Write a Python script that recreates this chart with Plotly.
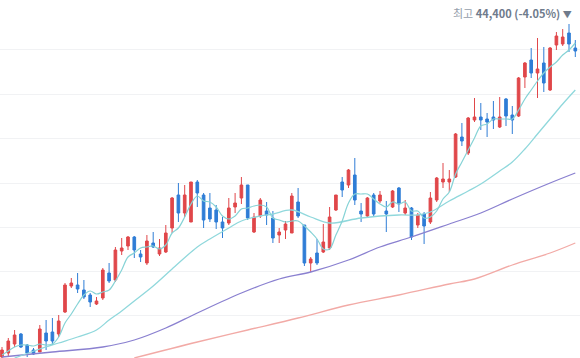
import plotly.graph_objects as go

# ---- data ----
idx = list(range(92))

opens = [27750, 27950, 28400, 28900, 28350, 28100, 28000, 28950, 29000, 28900,
         30000, 31300, 31350, 31100, 30850, 30400, 30700, 31950, 31600, 33050,
         33300, 33750, 32900, 32450, 33450, 32900, 33000, 34200, 35850, 34950,
         34500, 36500, 35850, 35200, 35100, 34500, 34450, 35250, 35700, 36350,
         34000, 34800, 35050, 34700, 33850, 34100, 33950, 35500, 34350, 32450,
         32950, 33000, 33200, 35100, 36500, 36350, 36850, 35050, 34800, 35850,
         35550, 35050, 35250, 36200, 34950, 35200, 34350, 34900, 34500, 35600,
         36500, 36500, 36750, 38750, 37950, 39600, 39750, 39650, 39750, 39250,
         40650, 39850, 39800, 41750, 42600, 41950, 42450, 41100, 43350, 43400,
         43950, 43200]

highs = [28250, 28700, 29100, 28950, 28400, 28200, 29350, 29600, 29700, 29850,
         31450, 31700, 31950, 31600, 30950, 30750, 32200, 32450, 33250, 33700,
         33800, 33800, 33100, 33850, 34000, 33650, 34350, 35750, 36450, 36350,
         36500, 36600, 35950, 35950, 35350, 34750, 35700, 35950, 36750, 36350,
         34950, 35700, 35500, 35050, 34200, 34550, 35950, 36200, 34350, 32750,
         33650, 34400, 35250, 35850, 36750, 37150, 37700, 35450, 35750, 35950,
         36050, 35550, 36100, 36250, 35600, 35250, 34950, 35000, 36000, 36750,
         37450, 37100, 38950, 39450, 39750, 40700, 40450, 39950, 40550, 40750,
         40700, 40300, 41750, 42500, 43200, 43700, 43250, 43250, 44000, 44150,
         44400, 43600]

lows = [27700, 27800, 28250, 28200, 27750, 27850, 28000, 28100, 28350, 28750,
        29950, 31200, 30950, 30650, 30250, 30350, 30600, 31450, 31500, 32850,
        33100, 32700, 32500, 32350, 33200, 32800, 32950, 33950, 34500, 34750,
        34500, 35250, 34200, 34500, 34150, 33700, 34350, 34950, 35400, 34600,
        33950, 34700, 34350, 33450, 33450, 33650, 33950, 34700, 32300, 32000,
        32350, 32950, 33100, 35050, 35750, 36200, 35350, 34500, 34700, 34800,
        35450, 34000, 35200, 35000, 34850, 33600, 34200, 33400, 34400, 35500,
        36200, 36000, 36700, 38300, 37850, 39500, 39100, 38750, 39150, 39200,
        39300, 38900, 39750, 41200, 41700, 40700, 41000, 41050, 43100, 43300,
        43000, 42750]

closes = [28100, 28550, 28850, 28250, 27950, 27900, 29150, 28550, 28550, 29550,
          31350, 31450, 31150, 30750, 30500, 30550, 32100, 31550, 33100, 33200,
          33750, 33100, 32750, 33550, 33250, 33200, 33950, 35700, 34950, 35850,
          36500, 35950, 34600, 34650, 34500, 34200, 35200, 35450, 36350, 34700,
          34750, 35600, 34850, 33700, 34000, 34400, 35800, 34800, 32450, 32650,
          32450, 33500, 34750, 35850, 36100, 37100, 35600, 34900, 35700, 34900,
          35850, 34900, 36050, 35400, 35200, 33750, 34850, 34300, 35700, 36700,
          36650, 36650, 38900, 38550, 39700, 39750, 39600, 39500, 39600, 39750,
          39800, 39600, 41700, 42450, 41950, 42150, 41450, 43200, 43800, 43750,
          43400, 43050]

ma5 = [27850, 28050, 28250, 28350, 28350, 28300, 28400, 28350, 28400, 28750,
       29450, 29900, 30400, 30850, 31050, 30900, 31000, 31100, 31550, 32100,
       32750, 32950, 33200, 33250, 33300, 33150, 33350, 33950, 34200, 34750,
       35400, 35800, 35550, 35500, 35250, 34800, 34650, 34800, 35150, 35200,
       35300, 35350, 35250, 34700, 34600, 34500, 34550, 34550, 34300, 34000,
       33650, 33150, 33150, 33850, 34550, 35450, 35900, 35900, 35900, 35650,
       35400, 35250, 35500, 35400, 35500, 35050, 35050, 34700, 34750, 35050,
       35650, 36000, 36900, 37500, 38100, 38700, 39300, 39400, 39650, 39650,
       39650, 39650, 40100, 40650, 41100, 41550, 41950, 42250, 42500, 42850,
       43100, 43450]

ma20_idx = [2, 6, 9, 12, 15, 17, 19, 21, 24, 27, 31, 33, 36, 38, 41, 43, 46,
            49, 52, 57, 63, 66, 68, 71, 74, 76, 79, 81, 83, 85, 87, 89, 91]
ma20_val = [27700, 28150, 28450, 28750, 29100, 29600, 30050, 30550, 31300,
            32150, 33250, 33650, 34200, 34550, 34800, 34900, 35100, 34750,
            34450, 34700, 34850, 34850, 35000, 35550, 36050, 36400, 37050,
            37500, 38150, 38900, 39650, 40400, 41100]

ma60_idx = [0, 8, 16, 21, 26, 31, 38, 44, 49, 55, 60, 65, 71, 76, 81, 87, 91]
ma60_val = [27750, 28000, 28250, 28600, 29200, 29950, 30950, 31650, 32000,
            32600, 33250, 33750, 34400, 34950, 35650, 36450, 36950]

ma120_idx = [21, 31, 39, 47, 55, 63, 71, 75, 81, 87, 91]
ma120_val = [27700, 28500, 29100, 29700, 30350, 30850, 31400, 31650, 32350,
             32950, 33450]

grid_vals = [29850, 32050, 34250, 36450, 38700, 40900, 43150]

high_idx = 90
high_label = "최고"
high_value = "44,400 (-4.05%)"

# ---- styles ----
RED = "#e0474a"
BLUE = "#2f7dd6"

fig = go.Figure()

fig.add_trace(go.Scatter(x=ma120_idx, y=ma120_val, mode="lines",
                         line=dict(color="#f2aaa6", width=1.3, shape="spline"),
                         hoverinfo="skip"))
fig.add_trace(go.Scatter(x=ma60_idx, y=ma60_val, mode="lines",
                         line=dict(color="#8a80d0", width=1.3, shape="spline"),
                         hoverinfo="skip"))
fig.add_trace(go.Scatter(x=ma20_idx, y=ma20_val, mode="lines",
                         line=dict(color="#90d8dc", width=1.3, shape="spline"),
                         hoverinfo="skip"))
fig.add_trace(go.Scatter(x=idx, y=ma5, mode="lines",
                         line=dict(color="#86d3d6", width=1.2, shape="spline"),
                         hoverinfo="skip"))

fig.add_trace(go.Candlestick(
    x=idx, open=opens, high=highs, low=lows, close=closes,
    increasing=dict(line=dict(color=RED, width=1), fillcolor=RED),
    decreasing=dict(line=dict(color=BLUE, width=1), fillcolor=BLUE),
    whiskerwidth=0,
))

fig.add_annotation(
    x=high_idx, y=highs[high_idx], xref="x", yref="y",
    text=(f"<span style='color:#959eab'>{high_label}</span> "
          f"<b>{high_value}</b> <span style='font-size:9px'>▼</span>"),
    showarrow=False, xanchor="right", yanchor="bottom",
    xshift=5, yshift=1,
    font=dict(family="Noto Sans CJK KR, Noto Sans, sans-serif", size=11,
              color="#6f7b8c"),
)

fig.update_layout(
    width=580, height=358,
    margin=dict(l=0, r=0, t=0, b=0),
    paper_bgcolor="white", plot_bgcolor="white",
    showlegend=False, hovermode=False,
    boxgap=0.4,
    xaxis=dict(range=[-0.317, 91.746], visible=False,
               rangeslider=dict(visible=False)),
    yaxis=dict(range=[27700, 45600], showticklabels=False, ticks="",
               tickvals=grid_vals, showgrid=True, gridcolor="#f1f2f4",
               gridwidth=1, zeroline=False, showline=False),
)

fig.write_html("out.html", config={"displayModeBar": False},
               post_script="document.body.style.margin='0';"
                           "document.body.style.overflow='hidden';")
